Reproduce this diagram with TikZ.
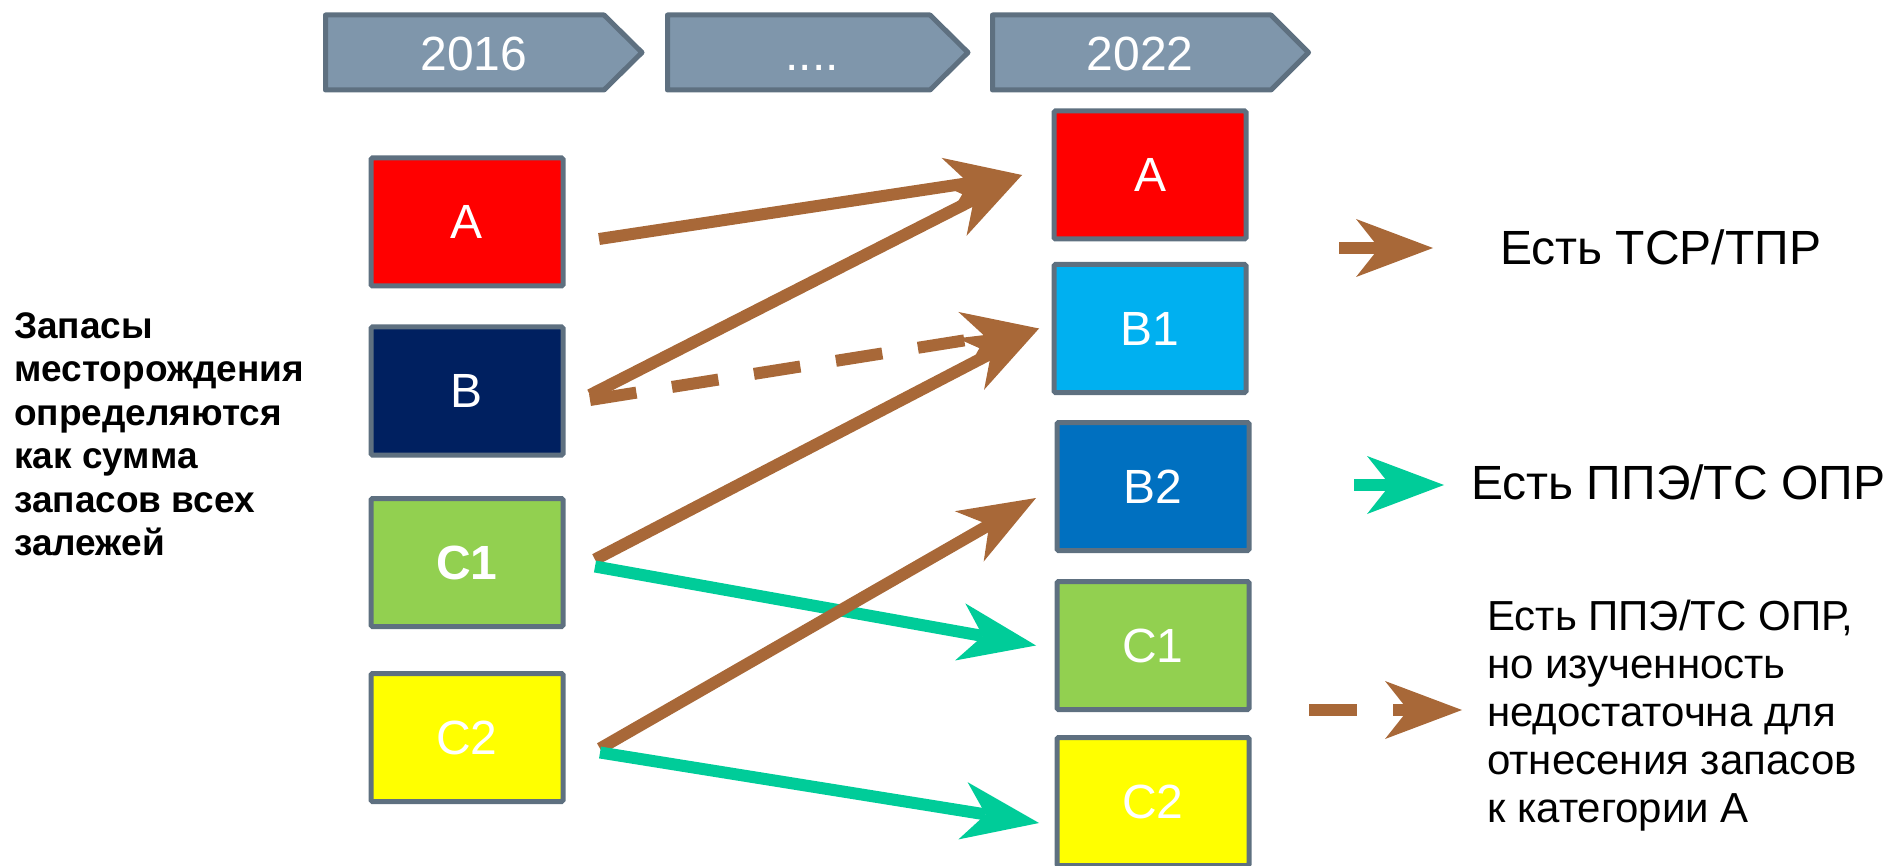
\documentclass[tikz,border=0pt]{standalone}
\usepackage{fontspec}
\setmainfont{Liberation Sans}
\usetikzlibrary{arrows.meta,calc}

\definecolor{framegray}{RGB}{94,112,128}
\definecolor{chevfill}{RGB}{127,150,171}
\definecolor{arrbrown}{RGB}{168,104,56}
\definecolor{arrteal}{RGB}{0,204,153}
\definecolor{catA}{RGB}{255,0,0}
\definecolor{catB}{RGB}{0,32,96}
\definecolor{catBone}{RGB}{0,176,240}
\definecolor{catBtwo}{RGB}{0,112,192}
\definecolor{catCone}{RGB}{146,208,80}
\definecolor{catCtwo}{RGB}{255,255,0}

\tikzset{
	catbox/.style={draw=framegray, line width=5pt, rounded corners=1.5pt, minimum width=192pt, minimum height=128pt, inner sep=0pt, outer sep=0pt, text=white, font=\fontsize{48}{56}\selectfont},
	yearbox/.style={draw=framegray, fill=chevfill, line width=5pt, line join=round},
	yeartext/.style={text=white, inner sep=0pt, font=\fontsize{48}{56}\selectfont},
	legtext/.style={inner sep=0pt, font=\fontsize{48}{56}\selectfont},
	headtip/.style={-{Stealth[length=77pt, width=58pt, inset=23pt, line width=0pt]}},
	brownarrow/.style={draw=arrbrown, line width=12pt, headtip},
	tealarrow/.style={draw=arrteal, line width=12pt, headtip},
}

\begin{document}
\begin{tikzpicture}[x=1pt,y=1pt,yscale=-1,xscale=1]
	\useasboundingbox (0,0) rectangle (1886,866);
	
	%Shape: Chevron 2016
	\draw [yearbox] (325.5,15) -- (604,15) -- (642,52.5) -- (604,90) -- (325.5,90) -- cycle ;
	%Shape: Chevron dots
	\draw [yearbox] (667.5,15) -- (930,15) -- (968,52.5) -- (930,90) -- (667.5,90) -- cycle ;
	%Shape: Chevron 2022
	\draw [yearbox] (992.5,15) -- (1271,15) -- (1308.5,52.5) -- (1271,90) -- (992.5,90) -- cycle ;
	
	\node (y16) at (474,71) [anchor=base, yeartext] {2016};
	\node (ydots) at (812,71) [anchor=base, yeartext] {....};
	\node (y22) at (1140,71) [anchor=base, yeartext] {2022};
	
	%Shape: Rectangles 2016
	\node (lA) at (467,222) [catbox, fill=catA] {A};
	\node (lB) at (467,391) [catbox, fill=catB] {B};
	\node (lC1) at (467,562.5) [catbox, fill=catCone] {\bfseries C1};
	\node (lC2) at (467,737.5) [catbox, fill=catCtwo] {C2};
	
	%Shape: Rectangles 2022
	\node (rA) at (1150,175) [catbox, fill=catA] {A};
	\node (rB1) at (1150,328.5) [catbox, fill=catBone] {B1};
	\node (rB2) at (1153,486.5) [catbox, fill=catBtwo] {B2};
	\node (rC1) at (1153,645.5) [catbox, fill=catCone] {C1};
	\node (rC2) at (1153,801.5) [catbox, fill=catCtwo] {C2};
	
	%Straight Lines
	\draw [brownarrow] ($(lA.east)+(36,17)$) -- ($(rA.west)+(-32,0)$) ;
	\draw [brownarrow] ($(lB.east)+(27,4)$) -- ($(rA.west)+(-32,0)$) ;
	\draw [brownarrow, dash pattern=on 47pt off 36pt] ($(lB.east)+(27,9)$) -- ($(rB1.west)+(-15,0)$) ;
	\draw [brownarrow] ($(lC1.east)+(32,-3)$) -- ($(rB1.west)+(-15,0)$) ;
	\draw [tealarrow] ($(lC1.east)+(32,4)$) -- ($(rC1.west)+(-21,0)$) ;
	\draw [brownarrow] ($(lC2.east)+(37,11)$) -- ($(rB2.west)+(-21,11.5)$) ;
	\draw [tealarrow] ($(lC2.east)+(37,15)$) -- ($(rC2.west)+(-18,21.5)$) ;
	
	%Left text
	\node (sumtext) at (14,312) [anchor=north west, inner sep=0pt, align=left, font=\fontsize{37}{43.5}\selectfont\bfseries] {Запасы\\месторождения\\определяются\\как сумма\\запасов всех\\залежей};
	
	%Legend
	\node (legTSR) at (1500,265) [anchor=base west, legtext] {Есть ТСР/ТПР};
	\node (legPPE) at (1471,499) [anchor=base west, legtext] {Есть ППЭ/ТС ОПР};
	\node (legNote) at (1487,600) [anchor=north west, inner sep=0pt, align=left, font=\fontsize{42}{48}\selectfont] {Есть ППЭ/ТС ОПР,\\но изученность\\недостаточна для\\отнесения запасов\\к категории А};
	
	\coordinate (k1a) at (1339,248);
	\coordinate (k1b) at (1433,248);
	\coordinate (k2a) at (1354,485);
	\coordinate (k2b) at (1444,485);
	\coordinate (k3a) at (1309,710);
	\coordinate (k3b) at (1462,710);
	\draw [brownarrow] (k1a) -- (k1b) ;
	\draw [tealarrow] (k2a) -- (k2b) ;
	\draw [brownarrow, dash pattern=on 48pt off 36pt] (k3a) -- (k3b) ;
	
\end{tikzpicture}
\end{document}
